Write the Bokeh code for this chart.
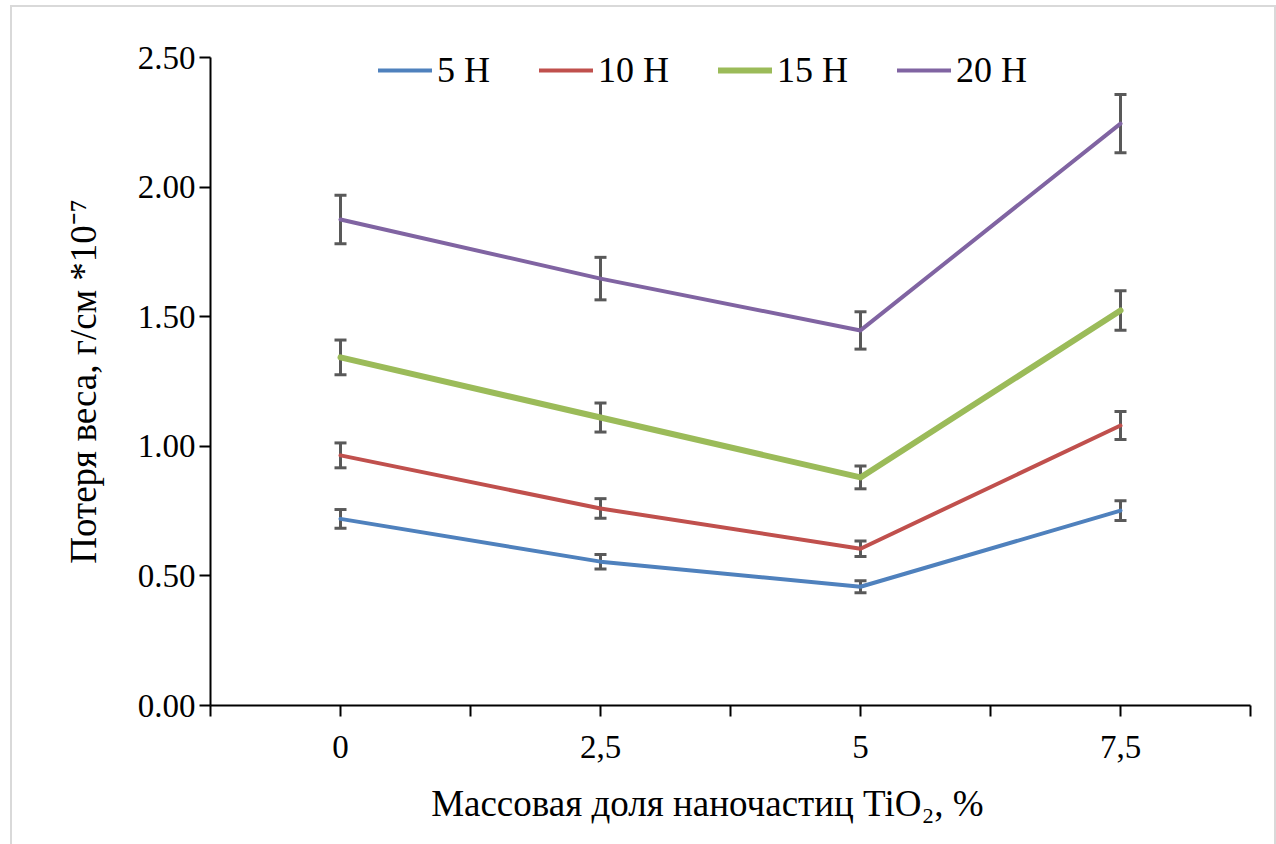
from bokeh.plotting import figure
from bokeh.models import (ColumnDataSource, FixedTicker, NumeralTickFormatter, Legend,
                          LegendItem, Range1d, InlineStyleSheet)
from bokeh.embed import file_html
from bokeh.resources import INLINE

# ---- data ----
categories = ["0", "2,5", "5", "7,5"]
x_vals = [0, 2.5, 5, 7.5]
series_names = ["5 Н", "10 Н", "15 Н", "20 Н"]
s5 = [0.72, 0.555, 0.458, 0.752]
s10 = [0.965, 0.760, 0.605, 1.080]
s15 = [1.343, 1.111, 0.880, 1.524]
s20 = [1.875, 1.647, 1.447, 2.245]
e5 = [0.036, 0.028, 0.023, 0.038]
e10 = [0.048, 0.038, 0.030, 0.054]
e15 = [0.067, 0.056, 0.044, 0.076]
e20 = [0.094, 0.082, 0.072, 0.112]
y_ticks = [0, 0.5, 1.0, 1.5, 2.0, 2.5]
x_ticks = [-1.25, 0, 1.25, 2.5, 3.75, 5, 6.25, 7.5, 8.75]
x_title = "Массовая доля наночастиц TiO₂, %"
y_title = "Потеря веса, г/см *10⁻⁷"

colors = ["#4F81BD", "#C0504D", "#9BBB59", "#8064A2"]
widths = [4, 4, 6, 4]
FONT = "Liberation Serif"
TICK_FS = "33px"
TITLE_FS = "37px"
LEG_FS = "36px"

p = figure(width=1276, height=844, output_backend="svg", toolbar_location=None,
           x_range=Range1d(-1.25, 8.75), y_range=Range1d(0, 2.5),
           min_border_left=210, min_border_right=26, min_border_top=57, min_border_bottom=139)
p.frame_width = 1040
p.frame_height = 648
p.outline_line_color = None
p.xgrid.visible = False
p.ygrid.visible = False
p.background_fill_color = "white"
p.border_fill_color = "white"

# axes
p.xaxis.ticker = FixedTicker(ticks=x_ticks)
overrides = {t: "" for t in x_ticks}
for xv, lab in zip(x_vals, categories):
    overrides[xv] = lab
p.xaxis.major_label_overrides = overrides
p.yaxis.ticker = FixedTicker(ticks=y_ticks)
p.yaxis.formatter = NumeralTickFormatter(format="0.00")
for ax in (p.xaxis[0], p.yaxis[0]):
    ax.axis_line_color = "black"
    ax.axis_line_width = 2
    ax.major_tick_line_color = "black"
    ax.major_tick_line_width = 2
    ax.major_tick_in = 0
    ax.major_tick_out = 11
    ax.minor_tick_line_color = None
    ax.major_label_text_font = FONT
    ax.major_label_text_font_size = TICK_FS
    ax.major_label_text_color = "black"
    ax.axis_label_text_font = FONT
    ax.axis_label_text_font_size = TITLE_FS
    ax.axis_label_text_font_style = "normal"
    ax.axis_label_text_color = "black"
p.xaxis.major_label_standoff = 19
p.yaxis.major_label_standoff = 4
p.yaxis.axis_label = y_title
p.yaxis.axis_label_standoff = 31
# trailing no-break spaces shift the centred title a little left, as in the original
p.xaxis.axis_label = x_title + "\u00a0" * 5
p.xaxis.axis_label_standoff = 22

# error bars (under lines)
all_vals = [s5, s10, s15, s20]
all_errs = [e5, e10, e15, e20]
for vals, errs in zip(all_vals, all_errs):
    lo = [v - e for v, e in zip(vals, errs)]
    hi = [v + e for v, e in zip(vals, errs)]
    src = ColumnDataSource(dict(x=x_vals, lo=lo, hi=hi))
    p.segment(x0="x", y0="lo", x1="x", y1="hi", source=src, line_color="#595959", line_width=3)
    p.scatter(x="x", y="lo", source=src, marker="dash", size=12, line_color="#595959", line_width=3)
    p.scatter(x="x", y="hi", source=src, marker="dash", size=12, line_color="#595959", line_width=3)

items = []
for name, vals, c, w in zip(series_names, all_vals, colors, widths):
    r = p.line(x_vals, vals, line_color=c, line_width=w, line_cap="round", line_join="round")
    items.append(LegendItem(label=name, renderers=[r]))

legend = Legend(items=items, orientation="horizontal", location=(168, 610),
                border_line_color=None, background_fill_alpha=0, padding=0, margin=0,
                spacing=49, label_standoff=5, glyph_width=54, glyph_height=50,
                label_height=50, label_text_font=FONT, label_text_font_size=LEG_FS,
                label_text_color="black")
p.add_layout(legend, "center")

p.stylesheets = [InlineStyleSheet(css=(
    ":host{position:relative;}"
    ":host::after{content:'';position:absolute;left:10px;top:5px;right:0px;bottom:-4px;"
    "border:2px solid #d9d9d9;pointer-events:none;box-sizing:border-box;}"))]

open("out.html", "w").write(file_html(p, INLINE))
